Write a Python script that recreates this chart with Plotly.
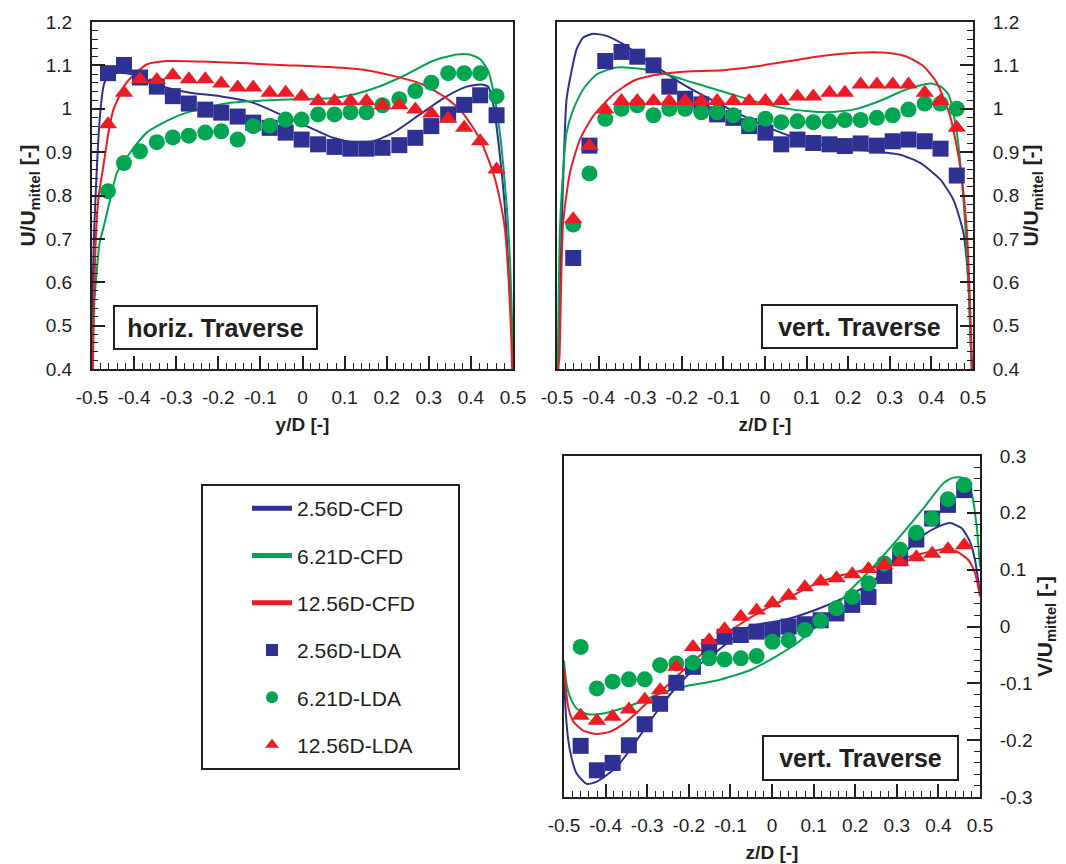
import plotly.graph_objects as go

# ---------------- colours / names ----------------
BLUE = "#2e3192"
GREEN = "#00a651"
RED = "#ed1c24"
INK = "#231f20"
FONT = "Liberation Sans, Arial, sans-serif"

names_cfd = ["2.56D-CFD", "6.21D-CFD", "12.56D-CFD"]
names_lda = ["2.56D-LDA", "6.21D-LDA", "12.56D-LDA"]

# ---------------- tick labels ----------------
x_tickvals = [-0.5, -0.4, -0.3, -0.2, -0.1, 0, 0.1, 0.2, 0.3, 0.4, 0.5]
x_ticktext = ["-0.5", "-0.4", "-0.3", "-0.2", "-0.1", "0", "0.1", "0.2", "0.3", "0.4", "0.5"]
u_tickvals = [0.4, 0.5, 0.6, 0.7, 0.8, 0.9, 1.0, 1.1, 1.2]
u_ticktext = ["0.4", "0.5", "0.6", "0.7", "0.8", "0.9", "1", "1.1", "1.2"]
v_tickvals = [-0.3, -0.2, -0.1, 0, 0.1, 0.2, 0.3]
v_ticktext = ["-0.3", "-0.2", "-0.1", "0", "0.1", "0.2", "0.3"]

# ---------------- horizontal traverse (U) ----------------
h_lda_x = [-0.462, -0.424, -0.386, -0.346, -0.308, -0.270, -0.231, -0.193, -0.154, -0.117,
           -0.078, -0.040, -0.002, 0.037, 0.076, 0.114, 0.152, 0.190, 0.230, 0.268,
           0.306, 0.346, 0.384, 0.422, 0.461]
h_lda_256 = [1.082, 1.101, 1.072, 1.051, 1.029, 1.012, 0.998, 0.991, 0.982, 0.968,
             0.956, 0.945, 0.929, 0.918, 0.912, 0.908, 0.908, 0.910, 0.916, 0.933,
             0.960, 0.987, 1.009, 1.031, 0.985]
h_lda_621 = [0.810, 0.875, 0.902, 0.923, 0.934, 0.938, 0.945, 0.948, 0.929, 0.960,
             0.961, 0.975, 0.975, 0.987, 0.987, 0.992, 0.992, 1.008, 1.022, 1.041,
             1.060, 1.082, 1.082, 1.082, 1.029]
h_lda_1256 = [0.964, 1.037, 1.068, 1.066, 1.077, 1.068, 1.068, 1.058, 1.049, 1.049,
              1.037, 1.037, 1.028, 1.018, 1.018, 1.018, 1.018, 1.008, 1.008, 0.998,
              0.989, 0.977, 0.956, 0.925, 0.860]

h_cfd_256_x = [-0.500, -0.498, -0.495, -0.489, -0.481, -0.472, -0.462, -0.445, -0.420, -0.402,
               -0.331, -0.267, -0.196, -0.117, -0.053, 0.010, 0.073, 0.121, 0.168, 0.216,
               0.279, 0.343, 0.390, 0.422, 0.441, 0.455, 0.468, 0.480, 0.490, 0.497, 0.500]
h_cfd_256_u = [0.400, 0.600, 0.714, 0.853, 0.985, 1.055, 1.075, 1.082, 1.082, 1.079,
               1.051, 1.037, 1.029, 1.014, 0.987, 0.960, 0.933, 0.923, 0.925, 0.945,
               0.987, 1.029, 1.051, 1.056, 1.051, 1.000, 0.900, 0.780, 0.620, 0.500, 0.400]
h_cfd_621_x = [-0.499, -0.497, -0.491, -0.482, -0.473, -0.457, -0.441, -0.410, -0.370, -0.307,
               -0.251, -0.172, -0.093, -0.014, 0.065, 0.121, 0.184, 0.247, 0.309, 0.366,
               0.397, 0.422, 0.441, 0.457, 0.468, 0.477, 0.487, 0.493, 0.498, 0.500]
h_cfd_621_u = [0.400, 0.521, 0.599, 0.691, 0.725, 0.790, 0.852, 0.898, 0.945, 0.979,
               0.998, 1.014, 1.019, 1.022, 1.024, 1.033, 1.052, 1.079, 1.110, 1.125,
               1.125, 1.114, 1.087, 1.022, 0.950, 0.868, 0.750, 0.650, 0.500, 0.400]
h_cfd_1256_x = [-0.498, -0.494, -0.490, -0.484, -0.473, -0.460, -0.449, -0.418, -0.370, -0.323,
                -0.212, -0.053, 0.065, 0.152, 0.223, 0.286, 0.341, 0.380, 0.422, 0.453,
                0.469, 0.481, 0.490, 0.496, 0.498]
h_cfd_1256_u = [0.400, 0.600, 0.721, 0.800, 0.868, 0.950, 0.998, 1.060, 1.102, 1.110,
                1.108, 1.101, 1.096, 1.089, 1.074, 1.056, 1.025, 0.991, 0.929, 0.852,
                0.790, 0.721, 0.600, 0.470, 0.400]

# ---------------- vertical traverse (U) ----------------
v_lda_x = [-0.461, -0.422, -0.384, -0.345, -0.307, -0.268, -0.230, -0.192, -0.153, -0.115,
           -0.076, -0.038, 0.001, 0.039, 0.078, 0.116, 0.155, 0.192, 0.230, 0.269,
           0.307, 0.345, 0.384, 0.422, 0.461]
vu_lda_256 = [0.656, 0.915, 1.110, 1.131, 1.120, 1.100, 1.051, 1.023, 1.010, 0.987,
              0.979, 0.960, 0.945, 0.918, 0.929, 0.921, 0.918, 0.914, 0.920, 0.915,
              0.925, 0.929, 0.925, 0.908, 0.846]
vu_lda_621 = [0.733, 0.851, 0.977, 1.000, 1.008, 0.985, 1.000, 1.000, 0.992, 0.992,
              0.985, 0.964, 0.977, 0.969, 0.971, 0.969, 0.971, 0.974, 0.974, 0.979,
              0.985, 0.998, 1.012, 1.012, 1.000]
vu_lda_1256 = [0.745, 0.914, 0.998, 1.018, 1.018, 1.018, 1.018, 1.018, 1.018, 1.018,
               1.018, 1.018, 1.018, 1.018, 1.028, 1.028, 1.037, 1.037, 1.056, 1.056,
               1.056, 1.056, 1.037, 1.018, 0.956]

vu_cfd_256_x = [-0.498, -0.494, -0.489, -0.483, -0.477, -0.465, -0.453, -0.437, -0.413, -0.381,
                -0.341, -0.300, -0.252, -0.204, -0.140, -0.060, 0.020, 0.100, 0.180, 0.260,
                0.325, 0.373, 0.421, 0.453, 0.477, 0.489, 0.493, 0.497]
vu_cfd_256_u = [0.400, 0.550, 0.721, 0.900, 1.022, 1.087, 1.137, 1.164, 1.173, 1.168,
                1.149, 1.122, 1.091, 1.060, 1.026, 0.987, 0.952, 0.925, 0.910, 0.902,
                0.894, 0.875, 0.837, 0.790, 0.714, 0.598, 0.500, 0.400]
vu_cfd_621_x = [-0.498, -0.493, -0.485, -0.477, -0.461, -0.437, -0.405, -0.357, -0.300, -0.236,
                -0.172, -0.092, -0.012, 0.068, 0.148, 0.212, 0.276, 0.341, 0.397, 0.421,
                0.441, 0.461, 0.477, 0.489, 0.497]
vu_cfd_621_u = [0.400, 0.721, 0.860, 0.945, 0.998, 1.045, 1.079, 1.095, 1.092, 1.079,
                1.060, 1.037, 1.014, 0.998, 0.992, 0.998, 1.018, 1.045, 1.058, 1.052,
                1.033, 0.945, 0.790, 0.600, 0.400]
vu_cfd_1256_x = [-0.497, -0.494, -0.490, -0.485, -0.469, -0.445, -0.413, -0.365, -0.317, -0.268,
                 -0.204, -0.100, -0.020, 0.060, 0.140, 0.220, 0.292, 0.341, 0.381, 0.413,
                 0.445, 0.469, 0.485, 0.493, 0.498]
vu_cfd_1256_u = [0.400, 0.430, 0.600, 0.740, 0.852, 0.929, 0.983, 1.033, 1.064, 1.077,
                 1.085, 1.089, 1.098, 1.110, 1.122, 1.129, 1.129, 1.120, 1.098, 1.060,
                 0.983, 0.868, 0.721, 0.550, 0.400]

# ---------------- vertical traverse (V) ----------------
vv_lda_x = [-0.460, -0.421, -0.383, -0.344, -0.306, -0.269, -0.230, -0.190, -0.151, -0.114,
            -0.075, -0.037, 0.001, 0.040, 0.079, 0.117, 0.155, 0.193, 0.232, 0.270,
            0.308, 0.347, 0.385, 0.423, 0.462]
vv_lda_256 = [-0.210, -0.253, -0.240, -0.209, -0.172, -0.136, -0.099, -0.071, -0.036, -0.018,
              -0.015, -0.009, -0.006, 0.000, 0.004, 0.011, 0.023, 0.038, 0.052, 0.089,
              0.120, 0.153, 0.190, 0.214, 0.240]
vv_lda_621 = [-0.036, -0.109, -0.097, -0.093, -0.093, -0.068, -0.065, -0.064, -0.056, -0.058,
              -0.056, -0.052, -0.027, -0.024, -0.006, 0.010, 0.032, 0.052, 0.076, 0.111,
              0.135, 0.165, 0.190, 0.224, 0.249]
vv_lda_1256 = [-0.157, -0.166, -0.159, -0.146, -0.129, -0.112, -0.071, -0.036, -0.024, -0.005,
               0.017, 0.028, 0.041, 0.054, 0.069, 0.079, 0.085, 0.092, 0.101, 0.108,
               0.114, 0.122, 0.128, 0.136, 0.143]

vv_cfd_256_x = [-0.500, -0.494, -0.486, -0.470, -0.445, -0.421, -0.373, -0.325, -0.277, -0.229,
                -0.181, -0.133, -0.053, 0.027, 0.107, 0.171, 0.236, 0.300, 0.364, 0.404,
                0.428, 0.456, 0.476, 0.488, 0.500]
vv_cfd_256_v = [-0.090, -0.170, -0.217, -0.258, -0.277, -0.273, -0.247, -0.200, -0.150, -0.106,
                -0.071, -0.044, 0.000, 0.011, 0.030, 0.050, 0.076, 0.117, 0.161, 0.177,
                0.182, 0.173, 0.149, 0.117, 0.058]
vv_cfd_621_x = [-0.500, -0.494, -0.486, -0.470, -0.445, -0.413, -0.373, -0.325, -0.269, -0.213,
                -0.133, -0.053, 0.011, 0.059, 0.131, 0.188, 0.236, 0.300, 0.364, 0.412,
                0.436, 0.460, 0.480, 0.492, 0.500]
vv_cfd_621_v = [-0.060, -0.100, -0.123, -0.144, -0.154, -0.154, -0.147, -0.135, -0.118, -0.106,
                -0.095, -0.077, -0.052, -0.030, 0.017, 0.064, 0.099, 0.152, 0.208, 0.252,
                0.262, 0.261, 0.234, 0.176, 0.105]
vv_cfd_1256_x = [-0.500, -0.490, -0.478, -0.454, -0.421, -0.389, -0.349, -0.301, -0.261, -0.213,
                 -0.149, -0.085, -0.021, 0.043, 0.107, 0.171, 0.236, 0.300, 0.364, 0.412,
                 0.444, 0.472, 0.488, 0.500]
vv_cfd_1256_v = [-0.073, -0.141, -0.167, -0.183, -0.189, -0.185, -0.167, -0.135, -0.110, -0.077,
                 -0.036, 0.000, 0.029, 0.052, 0.076, 0.091, 0.102, 0.117, 0.129, 0.136,
                 0.132, 0.117, 0.094, 0.053]

colors = [BLUE, GREEN, RED]
symbols = ["square", "circle", "triangle-up"]
msizes = [16, 16, 16]

panels = [
    ("x", "y",
     [(h_cfd_256_x, h_cfd_256_u), (h_cfd_621_x, h_cfd_621_u), (h_cfd_1256_x, h_cfd_1256_u)],
     h_lda_x, [h_lda_256, h_lda_621, h_lda_1256], True),
    ("x2", "y2",
     [(vu_cfd_256_x, vu_cfd_256_u), (vu_cfd_621_x, vu_cfd_621_u), (vu_cfd_1256_x, vu_cfd_1256_u)],
     v_lda_x, [vu_lda_256, vu_lda_621, vu_lda_1256], False),
    ("x3", "y3",
     [(vv_cfd_256_x, vv_cfd_256_v), (vv_cfd_621_x, vv_cfd_621_v), (vv_cfd_1256_x, vv_cfd_1256_v)],
     vv_lda_x, [vv_lda_256, vv_lda_621, vv_lda_1256], False),
]

fig = go.Figure()
for xa, ya, cfd, lx, lda, sl in panels:
    for i, (cx, cy) in enumerate(cfd):
        fig.add_trace(go.Scatter(
            x=cx, y=cy, mode="lines", name=names_cfd[i], legendgroup=names_cfd[i],
            showlegend=sl, xaxis=xa, yaxis=ya,
            line=dict(color=colors[i], width=2, shape="spline", smoothing=0.6)))
for xa, ya, cfd, lx, lda, sl in panels:
    for i, ly in enumerate(lda):
        fig.add_trace(go.Scatter(
            x=lx, y=ly, mode="markers", name=names_lda[i], legendgroup=names_lda[i],
            showlegend=sl, xaxis=xa, yaxis=ya,
            marker=dict(color=colors[i], symbol=symbols[i], size=msizes[i], line=dict(width=0))))

W, H = 1066, 864


def xdom(a, b):
    return [a / W, b / W]


def ydom(top, bottom):
    return [1 - bottom / H, 1 - top / H]


tickfont = dict(family=FONT, size=19, color=INK)
xtitlefont = dict(family=FONT, size=19, color=INK)
ytitlefont = dict(family=FONT, size=21, color=INK)


def xaxis_cfg(dom, anchor, title):
    return dict(domain=dom, anchor=anchor, range=[-0.5, 0.5], showgrid=False, zeroline=False,
                automargin=False,
                showline=True, linewidth=2, linecolor=INK, mirror=True,
                ticks="inside", ticklen=13, tickwidth=1.5, tickcolor=INK,
                tickmode="array", tickvals=x_tickvals, ticktext=x_ticktext,
                tickfont=tickfont, ticklabelstandoff=10,
                minor=dict(ticks="inside", ticklen=6, tickwidth=1, tickcolor=INK,
                           tickmode="linear", tick0=-0.5, dtick=0.02, showgrid=False),
                title=dict(text="<b>" + title + "</b>", font=xtitlefont, standoff=11))


def yaxis_cfg(dom, anchor, rng, tv, tt, side, title, standoff):
    return dict(domain=dom, anchor=anchor, range=rng, side=side, showgrid=False, zeroline=False,
                automargin=False,
                showline=True, linewidth=2, linecolor=INK, mirror=True,
                ticks="inside", ticklen=13, tickwidth=1.5, tickcolor=INK,
                tickmode="array", tickvals=tv, ticktext=tt,
                tickfont=tickfont, ticklabelstandoff=14,
                minor=dict(ticks="inside", ticklen=6, tickwidth=1, tickcolor=INK,
                           tickmode="linear", tick0=rng[0], dtick=0.02, showgrid=False),
                title=dict(text="<b>" + title + "</b>", font=ytitlefont, standoff=standoff))


fig.update_layout(
    template="none",
    width=W, height=H, autosize=False,
    margin=dict(l=0, r=0, t=0, b=0, pad=0),
    paper_bgcolor="white", plot_bgcolor="white",
    font=dict(family=FONT, color=INK),
    xaxis=xaxis_cfg(xdom(92, 513), "y", "y/D [-]"),
    yaxis=yaxis_cfg(ydom(22, 369), "x", [0.4, 1.2], u_tickvals, u_ticktext, "left",
                    "U/U<sub>mittel</sub> [-]", 4),
    xaxis2=xaxis_cfg(xdom(557, 973), "y2", "z/D [-]"),
    yaxis2=yaxis_cfg(ydom(22, 369), "x2", [0.4, 1.2], u_tickvals, u_ticktext, "right",
                     "U/U<sub>mittel</sub> [-]", 0),
    xaxis3=xaxis_cfg(xdom(564, 980), "y3", "z/D [-]"),
    yaxis3=yaxis_cfg(ydom(456, 797), "x3", [-0.3, 0.3], v_tickvals, v_ticktext, "right",
                     "V/U<sub>mittel</sub> [-]", 0),
    showlegend=True,
    legend=dict(x=247 / W, y=1 - 488 / H, xanchor="left", yanchor="top",
                bgcolor="rgba(0,0,0,0)", borderwidth=0, itemwidth=40,
                font=dict(family=FONT, size=21, color=INK),
                traceorder="grouped", tracegroupgap=17, itemsizing="constant"),
)

# legend frame
fig.add_shape(type="rect", xref="paper", yref="paper",
              x0=202 / W, x1=459 / W, y0=1 - 769 / H, y1=1 - 485 / H,
              line=dict(color=INK, width=2), fillcolor="rgba(0,0,0,0)", layer="above")

boxes = [
    ("horiz. Traverse", (113 + 318) / 2, (305 + 350) / 2, 205, 45),
    ("vert. Traverse", (761 + 958) / 2, (304 + 349) / 2, 197, 45),
    ("vert. Traverse", (762 + 959) / 2, (735 + 781) / 2, 197, 46),
]
for txt, cx, cy, bw, bh in boxes:
    fig.add_annotation(text="<b>" + txt + "</b>", xref="paper", yref="paper",
                       x=cx / W, y=1 - cy / H, xanchor="center", yanchor="middle",
                       showarrow=False, width=bw - 4, height=bh - 4,
                       bgcolor="white", bordercolor=INK, borderwidth=2, borderpad=0,
                       font=dict(family=FONT, size=25, color=INK))

fig.write_html("out.html")
